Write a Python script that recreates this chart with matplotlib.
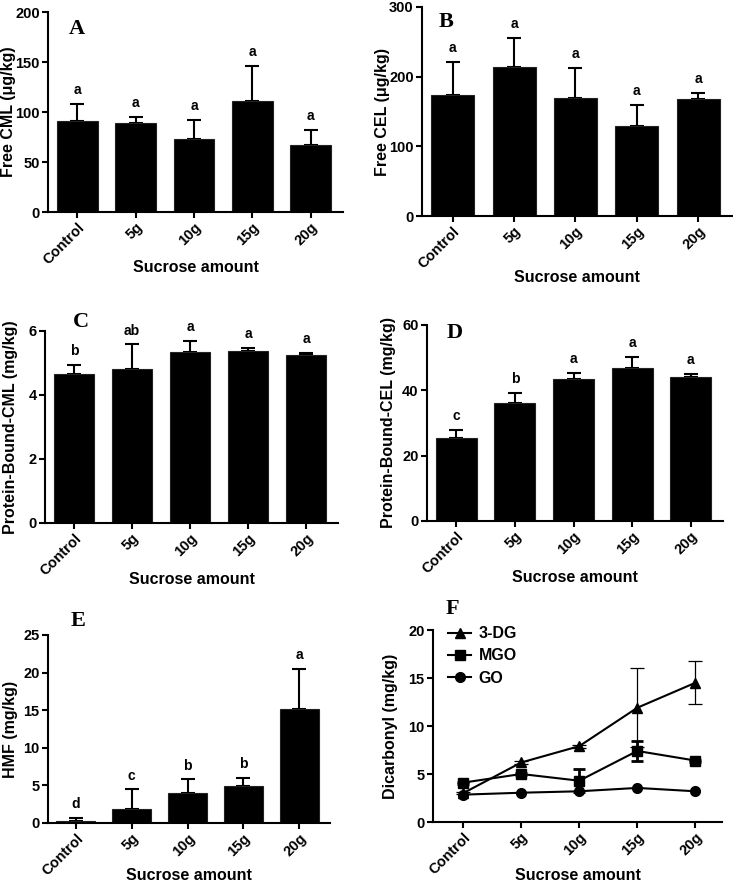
import matplotlib
matplotlib.use("Agg")
import matplotlib.pyplot as plt
from matplotlib.lines import Line2D
import numpy as np

plt.rcParams["font.family"] = ["Liberation Sans", "DejaVu Sans"]
plt.rcParams["font.weight"] = "bold"

groups = ["Control", "5g", "10g", "15g", "20g"]

free_cml = [91, 89, 73, 111, 67]
free_cml_err = [17, 6, 19, 35, 15]
free_cml_sig = ["a", "a", "a", "a", "a"]

free_cel = [174, 214, 170, 129, 168]
free_cel_err = [47, 41, 42, 30, 8]
free_cel_sig = ["a", "a", "a", "a", "a"]

pb_cml = [4.65, 4.8, 5.35, 5.37, 5.25]
pb_cml_err = [0.3, 0.78, 0.35, 0.11, 0.07]
pb_cml_sig = ["b", "ab", "a", "a", "a"]

pb_cel = [25.3, 36.0, 43.6, 46.8, 44.0]
pb_cel_err = [2.7, 3.2, 1.7, 3.5, 1.0]
pb_cel_sig = ["c", "b", "a", "a", "a"]

hmf = [0.3, 1.9, 4.0, 4.9, 15.2]
hmf_err = [0.4, 2.6, 1.8, 1.1, 5.3]
hmf_sig = ["d", "c", "b", "b", "a"]

dg3 = [3.0, 6.2, 7.9, 11.9, 14.5]
dg3_err = [0.1, 0.2, 0.15, 4.1, 2.25]
mgo = [4.1, 5.0, 4.3, 7.4, 6.4]
mgo_err = [0.1, 0.1, 1.2, 1.0, 0.1]
go = [2.85, 3.05, 3.2, 3.55, 3.2]
go_err = [0.05, 0.05, 0.05, 0.05, 0.05]

W, H = 733, 885
fig = plt.figure(figsize=(W / 100, H / 100), dpi=100)
TICK_FS = 10.5
LAB_FS = 11.5


def px_axes(l, r, t, b):
    ax = fig.add_axes([l / W, 1 - b / H, (r - l) / W, (b - t) / H])
    ax._px = (l, r, t, b)
    return ax


def style(ax, ylim, yticks, ylabel, ylab_x, xlab_y):
    ax.spines["top"].set_visible(False)
    ax.spines["right"].set_visible(False)
    for s in ("left", "bottom"):
        ax.spines[s].set_linewidth(1.5)
    ax.set_ylim(*ylim)
    ax.set_yticks(yticks)
    ax.set_xlim(-0.5, 4.55)
    ax.set_xticks(range(len(groups)))
    ax.set_xticklabels(groups, rotation=45, ha="right", rotation_mode="anchor",
                       fontsize=TICK_FS, fontweight="bold")
    ax.tick_params(axis="both", width=1.5, length=4, labelsize=TICK_FS, pad=2)
    for lab in ax.get_yticklabels():
        lab.set_fontweight("bold")
    l, r, t, b = ax._px
    ax.set_xlabel("Sucrose amount", fontsize=LAB_FS, fontweight="bold")
    ax.xaxis.set_label_coords(0.5, -(xlab_y - b) / (b - t))
    ax.xaxis.label.set_va("center")
    ax.set_ylabel(ylabel, fontsize=LAB_FS, fontweight="bold")
    ax.yaxis.set_label_coords((ylab_x - l) / (r - l), 0.5)
    ax.yaxis.label.set_va("center")


def bar_panel(ax, vals, errs, sig, ylabel, ylim, yticks, letter, lx, ly, ylab_x, xlab_y):
    x = np.arange(len(groups))
    ax.bar(x, vals, width=0.7, color="black", edgecolor="#222222", linewidth=0.8, zorder=2)
    ax.errorbar(x, vals, yerr=[np.zeros(len(vals)), errs], fmt="none", ecolor="black",
                elinewidth=1.5, capsize=5, capthick=1.5, zorder=1)
    off = (ylim[1] - ylim[0]) * 0.035
    for xi, v, e, s in zip(x, vals, errs, sig):
        ax.text(xi, v + e + off, s, ha="center", va="bottom", fontsize=10, fontweight="bold")
    style(ax, ylim, yticks, ylabel, ylab_x, xlab_y)
    ax.text(lx, ly, letter, transform=ax.transAxes, fontsize=16, fontweight="bold",
            family="Liberation Serif", va="top", ha="left")


axA = px_axes(48, 343, 12, 212)
bar_panel(axA, free_cml, free_cml_err, free_cml_sig, "Free CML (\u03bcg/kg)",
          (0, 200), [0, 50, 100, 150, 200], "A", 0.07, 0.965, 9, 268)

axB = px_axes(422, 732, 7, 216)
bar_panel(axB, free_cel, free_cel_err, free_cel_sig, "Free CEL (\u03bcg/kg)",
          (0, 300), [0, 100, 200, 300], "B", 0.055, 0.975, 382, 277)

axC = px_axes(45, 338, 331, 523)
bar_panel(axC, pb_cml, pb_cml_err, pb_cml_sig, "Protein-Bound-CML (mg/kg)",
          (0, 6), [0, 2, 4, 6], "C", 0.095, 1.10, 11, 579)

axD = px_axes(427, 723, 325, 521)
bar_panel(axD, pb_cel, pb_cel_err, pb_cel_sig, "Protein-Bound-CEL (mg/kg)",
          (0, 60), [0, 20, 40, 60], "D", 0.065, 1.01, 389, 578)

axE = px_axes(48, 330, 635, 823)
bar_panel(axE, hmf, hmf_err, hmf_sig, "HMF (mg/kg)",
          (0, 25), [0, 5, 10, 15, 20, 25], "E", 0.08, 1.13, 11, 876)

axF = px_axes(433, 722, 630, 822)
x = np.arange(len(groups))
axF.errorbar(x, dg3, yerr=dg3_err, color="black", marker="^", markersize=7,
             linewidth=1.5, elinewidth=0.9, capsize=5, capthick=0.9)
axF.errorbar(x, mgo, yerr=mgo_err, color="black", marker="s", markersize=7,
             linewidth=1.5, elinewidth=2, capsize=4, capthick=2)
axF.errorbar(x, go, yerr=go_err, color="black", marker="o", markersize=7,
             linewidth=1.5, elinewidth=1, capsize=3)
style(axF, (0, 20), [0, 5, 10, 15, 20], "Dicarbonyl (mg/kg)", 391, 876)
axF.set_xlim(-0.52, 4.46)
axF.text(0.045, 1.16, "F", transform=axF.transAxes, fontsize=16, fontweight="bold",
         family="Liberation Serif", va="top", ha="left")
handles = [Line2D([], [], color="black", marker=m, markersize=7, linewidth=1.5)
           for m in ("^", "s", "o")]
axF.legend(handles, ["3-DG", "MGO", "GO"], loc="upper left", bbox_to_anchor=(0.02, 1.07),
           frameon=False, prop={"weight": "bold", "size": LAB_FS}, handlelength=1.4,
           labelspacing=0.45, borderaxespad=0.2, handletextpad=0.5)

fig.savefig("out.png", dpi=100)
